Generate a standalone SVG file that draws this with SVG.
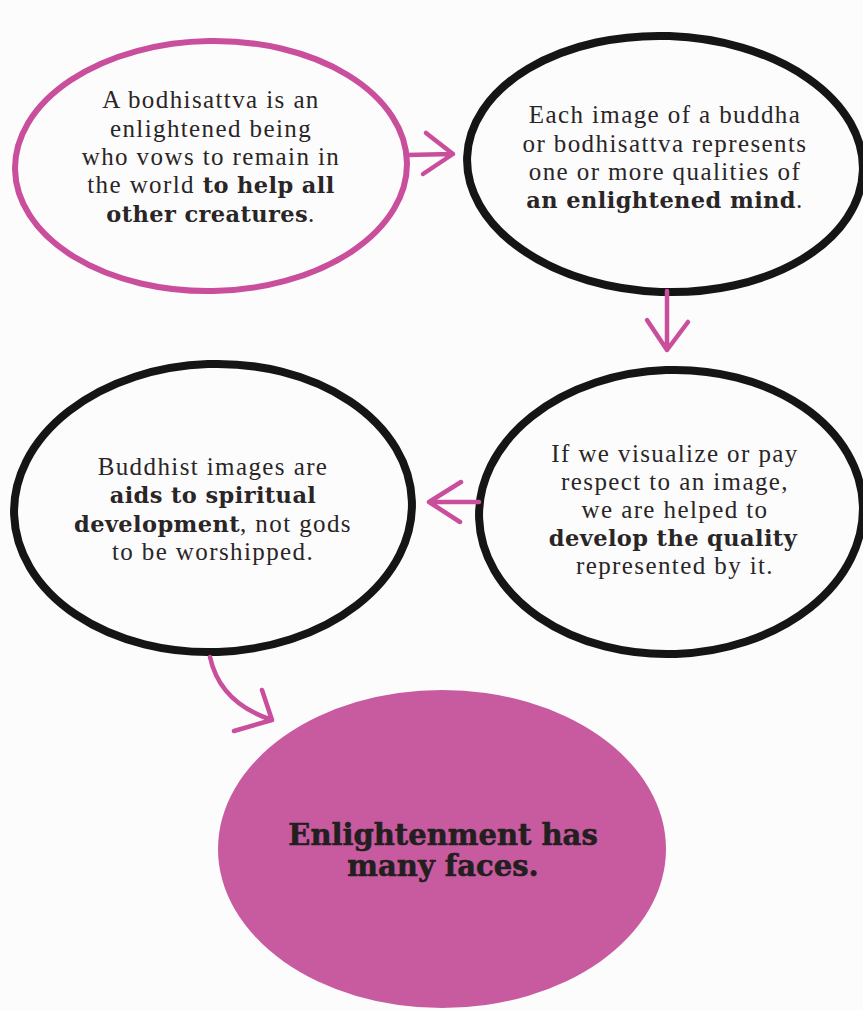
<svg xmlns="http://www.w3.org/2000/svg" width="863" height="1011" viewBox="0 0 863 1011">
<style>
.pinkring{fill:none;stroke:#c94f9c;stroke-width:6}
.blackring{fill:none;stroke:#151515;stroke-width:8}
.arrow{fill:none;stroke:#c94f9c;stroke-width:4.5;stroke-linecap:round;stroke-linejoin:round}
.t{font-family:"Liberation Serif",serif;font-size:25px;letter-spacing:1.4px;fill:#2a2526;text-anchor:middle}
.b{font-family:"DejaVu Serif",serif;font-weight:bold;font-size:22.5px;letter-spacing:0.4px}
.big{font-family:"DejaVu Serif",serif;font-weight:bold;font-size:29px;fill:#231f20;text-anchor:middle;stroke:#231f20;stroke-width:0.6}
</style>
<rect width="863" height="1011" fill="#fcfcfd"/>
<g id="node1">
<ellipse class="pinkring" cx="211" cy="166" rx="196" ry="125" transform="rotate(-1 211 166)"/>
<text class="t" x="211" y="108">A bodhisattva is an</text>
<text class="t" x="211" y="137">enlightened being</text>
<text class="t" x="211" y="165">who vows to remain in</text>
<text class="t" x="211" y="193">the world <tspan class="b">to help all</tspan></text>
<text class="t" x="211" y="222"><tspan class="b">other creatures</tspan>.</text>
</g>
<g id="node2">
<ellipse class="blackring" cx="665" cy="164" rx="198" ry="128" transform="rotate(2 665 164)"/>
<text class="t" x="665" y="123">Each image of a buddha</text>
<text class="t" x="665" y="152">or bodhisattva represents</text>
<text class="t" x="665" y="180">one or more qualities of</text>
<text class="t" x="665" y="208"><tspan class="b">an enlightened mind</tspan>.</text>
</g>
<g id="node3">
<ellipse class="blackring" cx="671" cy="512" rx="192" ry="142" transform="rotate(-2 671 512)"/>
<text class="t" x="675" y="462">If we visualize or pay</text>
<text class="t" x="675" y="490">respect to an image,</text>
<text class="t" x="675" y="518">we are helped to</text>
<text class="t" x="673" y="546"><tspan class="b">develop the quality</tspan></text>
<text class="t" x="675" y="574">represented by it.</text>
</g>
<g id="node4">
<ellipse class="blackring" cx="213" cy="508" rx="199" ry="144" transform="rotate(-2 213 508)"/>
<text class="t" x="213" y="475">Buddhist images are</text>
<text class="t" x="213" y="503"><tspan class="b">aids to spiritual</tspan></text>
<text class="t" x="213" y="532"><tspan class="b">development</tspan>, not gods</text>
<text class="t" x="213" y="560">to be worshipped.</text>
</g>
<g id="node5">
<ellipse cx="442" cy="849" rx="224" ry="159" fill="#c85ba0"/>
<text class="big" x="443" y="845">Enlightenment has</text>
<text class="big" x="443" y="876">many faces.</text>
</g>
<g id="connectors">
<path class="arrow" d="M406,155 L453,154 M426,133 L453,154 L423,174"/>
<path class="arrow" d="M667,291 L667,350 M647,320 L667,350 L688,322"/>
<path class="arrow" d="M479,502 L429,502 M461,482 L429,502 L460,522"/>
<path class="arrow" d="M210,657 Q220,703 272,720 M262,690 L272,720 L234,731"/>
</g>
</svg>
